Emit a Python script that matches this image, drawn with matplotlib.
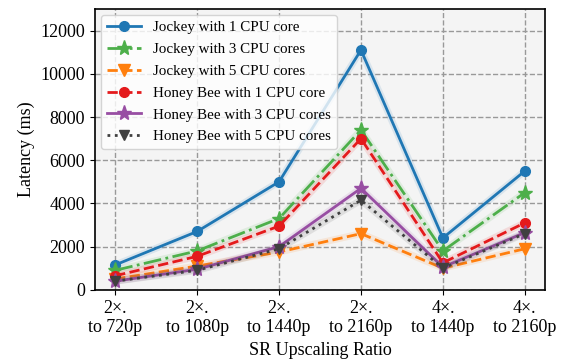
import matplotlib
matplotlib.use('Agg')
import matplotlib.pyplot as plt
import numpy as np

plt.rcParams['font.family'] = ['Liberation Serif', 'DejaVu Serif']

ratios = ['2\u00d7.\nto 720p', '2\u00d7.\nto 1080p', '2\u00d7.\nto 1440p',
          '2\u00d7.\nto 2160p', '4\u00d7.\nto 1440p', '4\u00d7.\nto 2160p']

jockey_1 = [1150, 2700, 5000, 11100, 2400, 5500]
jockey_3 = [900, 1800, 3300, 7400, 1800, 4500]
jockey_5 = [500, 1100, 1750, 2600, 1000, 1900]
bee_1 = [650, 1550, 2950, 7000, 1250, 3100]
bee_3 = [400, 950, 2000, 4700, 1050, 2650]
bee_5 = [400, 900, 1900, 4150, 1000, 2600]

series = [
    ('Jockey with 1 CPU core', jockey_1, '#1f77b4', '-', 'o', 7),
    ('Jockey with 3 CPU cores', jockey_3, '#4daf4a', '-.', '*', 11),
    ('Jockey with 5 CPU cores', jockey_5, '#ff7f0e', '--', 'v', 8),
    ('Honey Bee with 1 CPU core', bee_1, '#e41a1c', '--', 'o', 7),
    ('Honey Bee with 3 CPU cores', bee_3, '#984ea3', '-', '*', 11),
    ('Honey Bee with 5 CPU cores', bee_5, '#404040', ':', 'v', 7),
]

fig, ax = plt.subplots(figsize=(5.74, 3.6), dpi=100)
ax.set_facecolor('#f4f4f4')
x = np.arange(len(ratios))
for label, vals, c, ls, m, ms in series:
    # faint halo behind each line
    ax.plot(x, vals, color=c, linewidth=5, alpha=0.12, solid_capstyle='round')
    ax.plot(x, vals, label=label, color=c, linestyle=ls, marker=m,
            markersize=ms, linewidth=2)

ax.set_xlim(-0.25, 5.25)
ax.set_ylim(0, 13000)
ax.set_yticks(range(0, 13000, 2000))
ax.set_xticks(x)
ax.set_xticklabels(ratios, fontsize=13)
ax.tick_params(axis='y', labelsize=13)
ax.set_xlabel('SR Upscaling Ratio', fontsize=13)
ax.set_ylabel('Latency (ms)', fontsize=13)
ax.grid(True, linestyle='--', color='#999999', linewidth=1)
ax.set_axisbelow(True)
for s in ax.spines.values():
    s.set_linewidth(1.2)
leg = ax.legend(loc='upper left', fontsize=10.8, framealpha=0.8,
                handlelength=2.3, labelspacing=0.55, borderaxespad=0.4)
fig.subplots_adjust(left=0.165, right=0.95, top=0.975, bottom=0.195)
fig.savefig('out.png')
